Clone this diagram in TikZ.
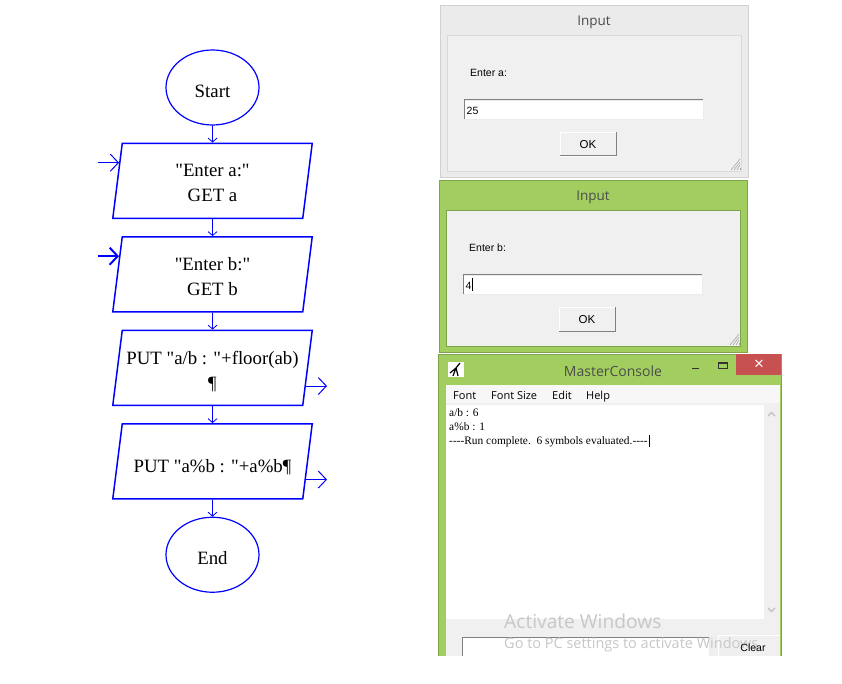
\documentclass[tikz,border=0pt]{standalone}
\usepackage{fontspec}
\setmainfont{Liberation Serif}[Ligatures=TeXOff]
\newfontfamily\uifont{Open Sans}
\newfontfamily\dlgfont{Liberation Sans}
\usetikzlibrary{arrows.meta, positioning, shapes.geometric}
\definecolor{winlime}{HTML}{A2CE5F}
\definecolor{winedge}{HTML}{7DA34C}
\definecolor{wingray}{HTML}{EBEBEB}
\definecolor{panelgray}{HTML}{F0F0F0}
\definecolor{closered}{HTML}{C75050}
\newcommand{\iotext}[1]{\makebox[180.5pt]{\begin{tabular}{@{}c@{}}#1\end{tabular}}}

\begin{document}
\begin{tikzpicture}[
    x=1pt, y=-1pt,
    node distance = 17pt,
    terminal/.style = {draw=blue, line width=1.2pt, ellipse, inner sep=0pt,
                       minimum width=93pt, minimum height=75pt,
                       font=\fontsize{18.8}{25}\selectfont},
    iobox/.style    = {draw=blue, line width=1.5pt, trapezium,
                       trapezium left angle=82.8, trapezium right angle=97.2,
                       inner sep=0pt, font=\fontsize{18.8}{25}\selectfont,
                       text height=45.25pt, text depth=29.75pt},
    flow/.style     = {-{Straight Barb[length=4pt, width=9pt]}, blue, line width=0.8pt},
    port/.style     = {-{Straight Barb[length=8pt, width=17pt]}, blue, line width=1pt},
    panel/.style    = {draw=#1, fill=panelgray, line width=0.8pt},
    field/.style    = {fill=white, draw=gray!15, line width=0.8pt},
    title/.style    = {font=\uifont\fontsize{13.5}{16}\selectfont, text=black!70},
    dlgtext/.style  = {font=\dlgfont\fontsize{10.5}{12}\selectfont, inner sep=0pt},
    menutext/.style = {font=\uifont\fontsize{11}{13}\selectfont, inner sep=0pt, anchor=base west},
    context/.style  = {font=\fontsize{11.4}{13}\selectfont, inner sep=0pt, anchor=base west},
    wmark/.style    = {text=black!22, inner sep=0pt, anchor=west},
    grip/.style     = {draw=gray!70, line width=0.6pt},
]
\useasboundingbox (0,0) rectangle (842,684);

%% Flowchart
\node[terminal, text height=21pt, text depth=0pt] (start) at (212.5,87.5) {Start};
\node[iobox, below=of start] (get_a) {\iotext{"Enter a:"\\ GET a}};
\node[iobox, below=of get_a] (get_b) {\iotext{"Enter b:"\\ GET b}};
\node[iobox, below=of get_b, text height=46.25pt, text depth=28.75pt] (put_div) {\iotext{PUT "a/b : "+floor(ab)\\ ¶}};
\node[iobox, below=of put_div, text height=47.5pt, text depth=27.5pt] (put_mod) {\iotext{PUT "a\%b : "+a\%b¶}};
\node[terminal, below=of put_mod, text height=19pt, text depth=0pt] (stop) {End};

\draw[flow] (start)   -- (get_a);
\draw[flow] (get_a)   -- (get_b);
\draw[flow] (get_b)   -- (put_div);
\draw[flow] (put_div) -- (put_mod);
\draw[flow] (put_mod) -- (stop);

%% Ports
\coordinate (in_a)  at (98,162);
\coordinate (in_b)  at (98,255);
\coordinate (out_a) at (327,386);
\coordinate (out_b) at (327,480);
\draw[port] (in_a |- get_a.169) -- (get_a.169);
\draw[port, line width=2pt] (in_b |- get_b.169) -- (get_b.169);
\draw[port] (put_div.-11) -- (out_a |- put_div.-11);
\draw[port] (put_mod.-11) -- (out_b |- put_mod.-11);

%% Input a
\draw[fill=wingray, draw=black!18, line width=0.8pt] (440,5) rectangle (748,177);
\draw[panel=black!15] (447,35) rectangle (741,171);
\node[title] (title_a) at (594,22) {Input};
\node[dlgtext, anchor=west] (prompt_a) at (470,73) {Enter a:};
\draw[field] (464.5,100) rectangle (703,119);
\draw[gray, line width=1pt] (464.5,119) -- (464.5,100) -- (703,100);
\node[dlgtext, anchor=west] (value_a) at (466.5,111) {25};
\draw[fill=panelgray, draw=white, line width=0.8pt] (560,132) rectangle (616,156);
\draw[gray, line width=1pt] (560,156) -- (616,156) -- (616,132);
\node[dlgtext, font=\dlgfont\fontsize{11.5}{13}\selectfont] (ok_a) at (588,144.5) {OK};
\foreach \d in {0,3,6,9}
  \draw[grip] (740-\d,170) -- (740,170-\d-2);

%% Input b
\draw[fill=winlime, draw=winedge, line width=0.8pt] (439,180) rectangle (747,352);
\draw[panel=winedge] (446.5,210) rectangle (740,346);
\node[title] (title_b) at (593,197) {Input};
\node[dlgtext, anchor=west] (prompt_b) at (469,248) {Enter b:};
\draw[field] (463.5,275) rectangle (702,294);
\draw[gray, line width=1pt] (463.5,294) -- (463.5,275) -- (702,275);
\node[dlgtext, anchor=west] (value_b) at (465.5,286) {4};
\draw[black, line width=0.6pt] (472,278) -- (472,291);
\draw[fill=panelgray, draw=white, line width=0.8pt] (559,307) rectangle (615,331);
\draw[gray, line width=1pt] (559,331) -- (615,331) -- (615,307);
\node[dlgtext, font=\dlgfont\fontsize{11.5}{13}\selectfont] (ok_b) at (587,319.5) {OK};
\foreach \d in {0,3,6,9}
  \draw[grip] (739-\d,345) -- (739,345-\d-2);

%% Console
\fill[winlime] (438,354) rectangle (781,656);
\draw[winedge, line width=0.8pt] (438,656) -- (438,354) -- (781,354) -- (781,656);
\fill[closered] (736,354) rectangle (781,375);
\node[font=\dlgfont\fontsize{17}{17}\selectfont, text=white, inner sep=0pt] (close) at (759,365) {×};
\draw[black!80, line width=1.5pt] (692,368.5) -- (699,368.5);
\draw[black!80, line width=1pt] (718.5,362.5) rectangle (727,368.5);
\draw[black!80, line width=2pt] (718.5,362.5) -- (727,362.5);
\fill[white] (448,362) rectangle (464,377);
\draw[black, line width=1.2pt] (450,373) -- (456,368) -- (460,363) (456,368) -- (458,376) (456,368) -- (453,376);
\node[title, font=\uifont\fontsize{14}{16}\selectfont] (con_title) at (613,371) {MasterConsole};
\fill[panelgray] (446,385) rectangle (780,656);
\fill[black!3] (446,385) rectangle (780,403);
\fill[white] (446,405) rectangle (764,619);
\node[menutext] (m_font) at (453,399) {Font};
\node[menutext] (m_size) at (491,399) {Font Size};
\node[menutext] (m_edit) at (552,399) {Edit};
\node[menutext] (m_help) at (586,399) {Help};
\node[context] (line_1) at (449,416) {a/b : 6};
\node[context] (line_2) at (449,430) {a\%b : 1};
\node[context] (line_3) at (449,444.5) {----Run complete.~~6 symbols evaluated.----};
\draw[black, line width=0.6pt] (649.5,435) -- (649.5,447);
\draw[black!25, line width=1.2pt] (768,416) -- (771.5,412.5) -- (775,416);
\draw[black!25, line width=1.2pt] (768,608) -- (771.5,611.5) -- (775,608);
\fill[white] (462,637) rectangle (709,656);
\draw[gray!15, line width=0.8pt] (709,637) -- (709,656);
\draw[gray, line width=1pt] (462,656) -- (462,637) -- (709,637);
\draw[draw=white, line width=0.8pt] (780,635) -- (718,635) -- (718,656);

%% Watermark
\node[wmark, font=\uifont\fontsize{19.2}{20}\selectfont] (act_1) at (504,621.5) {Activate Windows};
\node[wmark, font=\uifont\fontsize{14.5}{16}\selectfont] (act_2) at (504,645) {Go to PC settings to activate Windows};
\node[dlgtext] (clear) at (753,647.5) {Clear};

\end{tikzpicture}
\end{document}
